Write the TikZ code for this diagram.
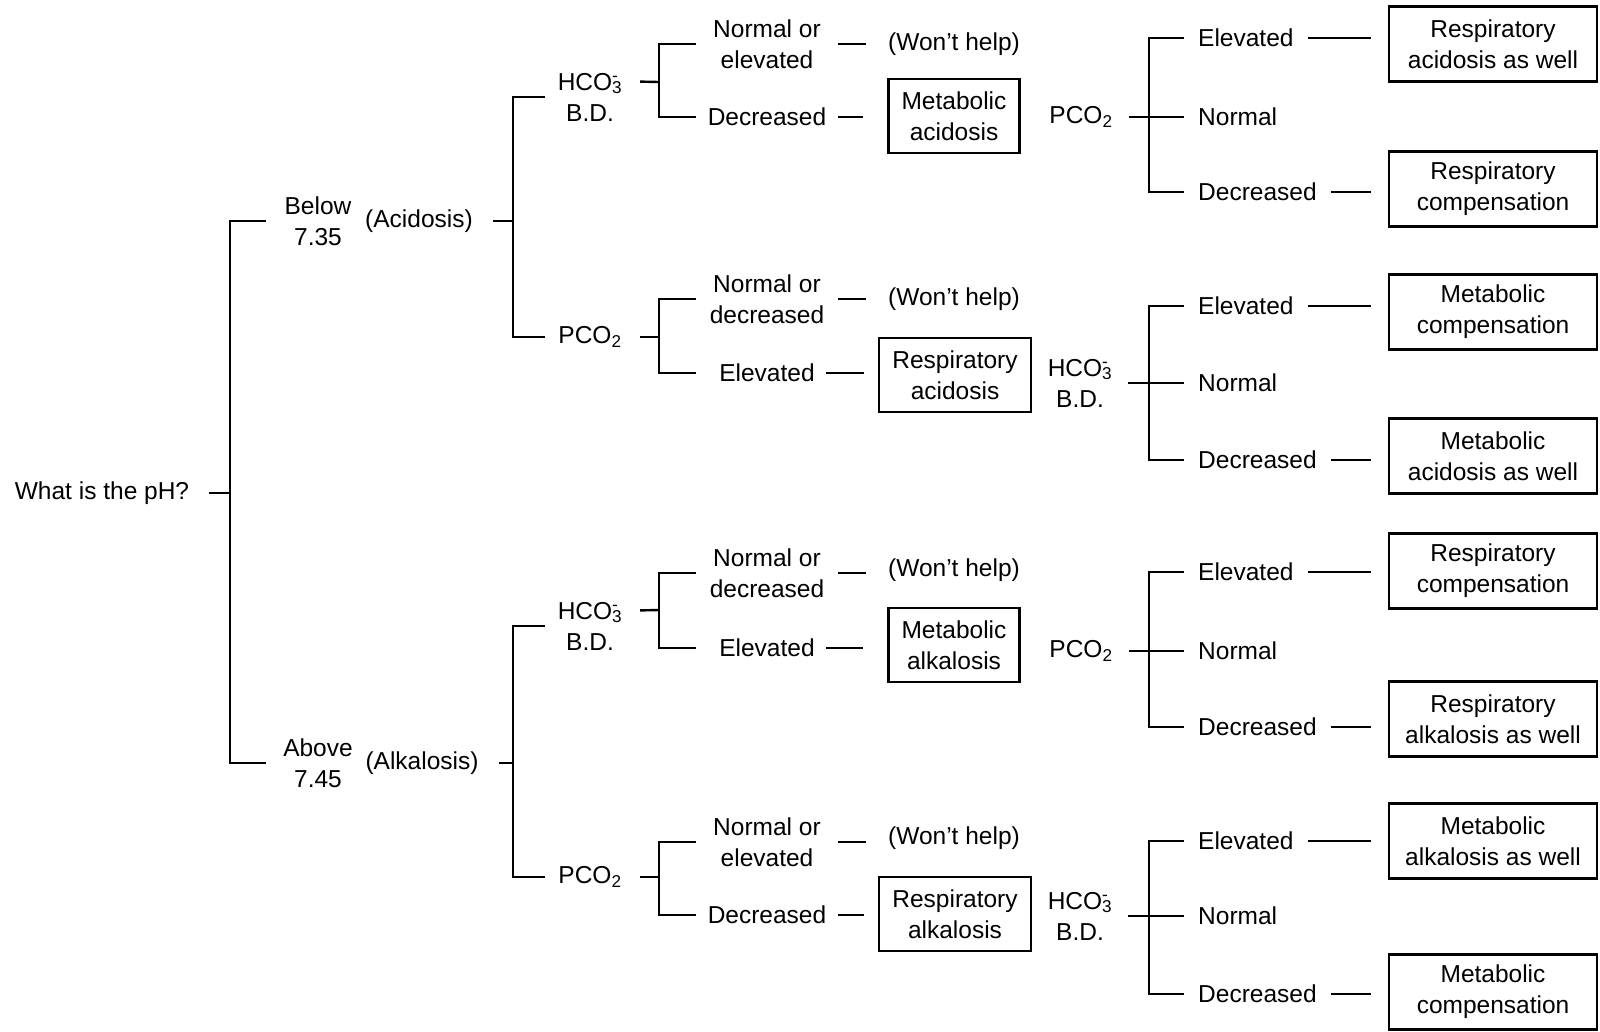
\documentclass[tikz,border=0pt]{standalone}
\usepackage{fontspec}
\setmainfont{Liberation Sans}
\usepackage{tikz}
\newcommand{\bicarb}{HCO\rlap{\textsuperscript{-}}\textsubscript{3}}
\newcommand{\pcotwo}{PCO\textsubscript{2}}

\begin{document}
\begin{tikzpicture}[x=1pt, y=-1pt, line width=2.4pt,
  txt/.style={font=\fontsize{24.5}{31}\selectfont, align=center, inner sep=0pt},
  sign/.style={txt, minimum width=102pt},
  gate/.style={txt, minimum width=88pt},
  mid/.style={txt, minimum width=140pt},
  opt/.style={txt, anchor=west, inner xsep=13pt},
  dx/.style={txt, draw, line width=2.6pt, minimum height=74pt},
  verdict/.style={dx, minimum width=208pt, minimum height=75pt}]
  \path[use as bounding box, fill=white] (0,0) rectangle (1600,1031);

  \node[txt] (root) at (102,493) {What is the pH?};
  \coordinate (b1) at (230,493);
  \node[sign] (below) at (318,221) {Below\\7.35};
  \node[sign] (above) at (318,763) {Above\\7.45};
  \node[txt] (acid) at (419,221) {(Acidosis)};
  \node[txt] (alk) at (422,763) {(Alkalosis)};
  \coordinate (b2a) at (513,221);
  \coordinate (b2b) at (513,763);
  \draw[shorten <=19pt] (root.east) -- (b1);
  \draw (below.west) -| (b1) |- (above.west);
  \draw[shorten <=19pt] (acid.east) -- (b2a);
  \draw[shorten <=19pt] (alk.east) -- (b2b);

  \node[gate] (gA) at (590,97) {\bicarb\\B.D.};
  \node[gate] (gB) at (590,337) {\pcotwo};
  \node[gate] (gC) at (590,626) {\bicarb\\B.D.};
  \node[gate] (gD) at (590,877) {\pcotwo};
  \draw (gA.west) -| (b2a) |- (gB.west);
  \draw (gC.west) -| (b2b) |- (gD.west);
  \coordinate (cA) at (659,82);
  \coordinate (cB) at (659,337);
  \coordinate (cC) at (659,610);
  \coordinate (cD) at (659,877);
  \draw[shorten <=5pt] ([yshift=15.5pt]gA.east) -- (cA);
  \draw[shorten <=5pt] (gB.east) -- (cB);
  \draw[shorten <=5pt] ([yshift=15.5pt]gC.east) -- (cC);
  \draw[shorten <=5pt] (gD.east) -- (cD);

  \node[mid] (qA1) at (767,44) {Normal or\\elevated};
  \node[mid] (qA2) at (767,117) {Decreased};
  \node[mid] (qB1) at (767,299) {Normal or\\decreased};
  \node[mid] (qB2) at (767,373) {Elevated};
  \node[mid] (qC1) at (767,573) {Normal or\\decreased};
  \node[mid] (qC2) at (767,648) {Elevated};
  \node[mid] (qD1) at (767,842) {Normal or\\elevated};
  \node[mid] (qD2) at (767,915) {Decreased};
  \draw (qA1.west) -| (cA) |- (qA2.west);
  \draw (qB1.west) -| (cB) |- (qB2.west);
  \draw (qC1.west) -| (cC) |- (qC2.west);
  \draw (qD1.west) -| (cD) |- (qD2.west);

  \node[txt] (wA) at (954,44) {(Won't help)};
  \node[txt] (wB) at (954,299) {(Won't help)};
  \node[txt] (wC) at (954,570) {(Won't help)};
  \node[txt] (wD) at (954,838) {(Won't help)};
  \node[dx, minimum width=131pt] (mA) at (954,116) {Metabolic\\acidosis};
  \node[dx, minimum width=152pt] (mB) at (955,375) {Respiratory\\acidosis};
  \node[dx, minimum width=131pt] (mC) at (954,645) {Metabolic\\alkalosis};
  \node[dx, minimum width=152pt] (mD) at (955,914) {Respiratory\\alkalosis};
  \draw[shorten >=21pt] (qA1.east) -- (qA1.east -| wA.west);
  \draw[shorten >=21pt] (qB1.east) -- (qB1.east -| wB.west);
  \draw[shorten >=21pt] (qC1.east) -- (qC1.east -| wC.west);
  \draw[shorten >=21pt] (qD1.east) -- (qD1.east -| wD.west);
  \draw[shorten >=24pt] (qA2.east) -- (qA2.east -| mA.west);
  \draw[shorten <=-12pt, shorten >=14pt] (qB2.east) -- (qB2.east -| mB.west);
  \draw[shorten <=-12pt, shorten >=24pt] (qC2.east) -- (qC2.east -| mC.west);
  \draw[shorten >=14pt] (qD2.east) -- (qD2.east -| mD.west);

  \node[txt] (sA) at (1081,117) {\pcotwo};
  \node[txt] (sB) at (1080,383) {\bicarb\\B.D.};
  \node[txt] (sC) at (1081,651) {\pcotwo};
  \node[txt] (sD) at (1080,916) {\bicarb\\B.D.};

  \node[verdict] (rA1) at (1493,44) {Respiratory\\acidosis as well};
  \node[verdict] (rA2) at (1493,189) {Respiratory\\compensation};
  \node[verdict] (rB1) at (1493,312) {Metabolic\\compensation};
  \node[verdict] (rB2) at (1493,456) {Metabolic\\acidosis as well};
  \node[verdict] (rC1) at (1493,571) {Respiratory\\compensation};
  \node[verdict] (rC2) at (1493,719) {Respiratory\\alkalosis as well};
  \node[verdict] (rD1) at (1493,841) {Metabolic\\alkalosis as well};
  \node[verdict] (rD2) at (1493,992) {Metabolic\\compensation};

  \foreach \k/\ya/\yb/\yc/\up/\dn in {A/38/117/192/rA1/rA2, B/306/383/460/rB1/rB2,
      C/572/651/727/rC1/rC2, D/841/916/994/rD1/rD2} {
    \node[opt] (e\k) at (1184,\ya) {Elevated};
    \node[opt] (n\k) at (1184,\yb) {Normal};
    \node[opt] (d\k) at (1184,\yc) {Decreased};
    \coordinate (j\k) at (1149,\yb);
    \draw[shorten <=15pt] (s\k.east) -- (n\k.west);
    \draw (e\k.west) -| (j\k) |- (d\k.west);
    \draw[shorten >=17pt] (e\k.east) -- (e\k.east -| \up.west);
    \draw[shorten >=17pt] (d\k.east) -- (d\k.east -| \dn.west);
  }
\end{tikzpicture}
\end{document}
